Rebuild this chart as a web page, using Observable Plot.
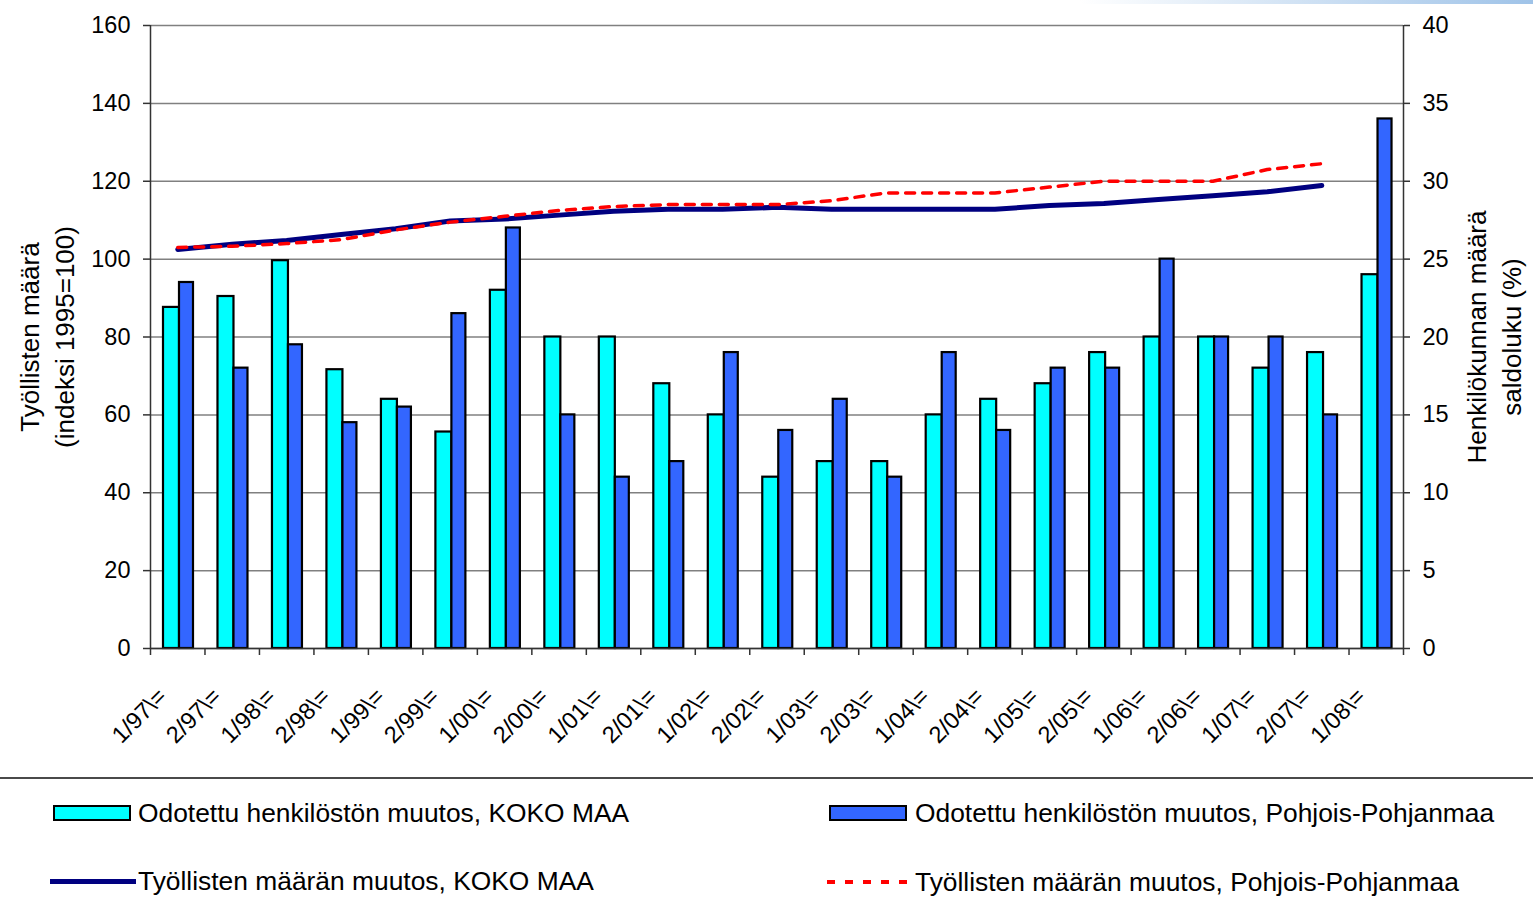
<!DOCTYPE html>
<html>
<head>
<meta charset="utf-8">
<script src="https://cdn.jsdelivr.net/npm/d3@7"></script>
<script src="https://cdn.jsdelivr.net/npm/@observablehq/plot@0.6"></script>
<style>
  body { margin: 0; background: #fff; font-family: "Liberation Sans", Arial, sans-serif; }
  #wrap { position: relative; width: 1533px; height: 913px; overflow: hidden; }
  #chart { position: absolute; left: 0; top: 0; }
  .topbar { position: absolute; top: 0; left: 1080px; width: 453px; height: 4px; background: linear-gradient(to right, #ffffff, #9fc3e8); }
  .sep { position: absolute; left: 0; top: 777px; width: 1533px; height: 2px; background: #4a4a4a; }
  .leg { position: absolute; font-size: 25px; color: #000; white-space: nowrap; line-height: 1; transform: scaleX(1.055); transform-origin: left center; }
  .sw { position: absolute; box-sizing: border-box; }
</style>
</head>
<body>
<div id="wrap">
  <div class="topbar"></div>
  <div id="chart"></div>
  <div class="sep"></div>
  <div id="legend"></div>
</div>
<script>
// Categories (tick labels)
const cats = ["1/97\\=","2/97\\=","1/98\\=","2/98\\=","1/99\\=","2/99\\=","1/00\\=","2/00\\=","1/01\\=","2/01\\=","1/02\\=","2/02\\=","1/03\\=","2/03\\=","1/04\\=","2/04\\=","1/05\\=","2/05\\=","1/06\\=","2/06\\=","1/07\\=","2/07\\=","1/08\\="];

// Bars: expected change in personnel, saldo (%), right axis
const henkKoko = [21.9, 22.6, 24.9, 17.9, 16, 13.9, 23, 20, 20, 17, 15, 11, 12, 12, 15, 16, 17, 19, 20, 20, 18, 19, 24];
const henkPP   = [23.5, 18, 19.5, 14.5, 15.5, 21.5, 27, 15, 11, 12, 19, 14, 16, 11, 19, 14, 18, 18, 25, 20, 20, 15, 34];

// Lines: employed persons index (1995=100), left axis
const tyoKoko = [102.5, 103.8, 104.8, 106.3, 107.8, 109.8, 110.3, 111.3, 112.3, 112.8, 112.8, 113.3, 112.8, 112.8, 112.8, 112.8, 113.8, 114.3, 115.3, 116.3, 117.3, 118.9, null];
const tyoPP   = [103, 103.3, 104, 105, 107.5, 109.5, 111, 112.5, 113.5, 114, 114, 114, 115, 117, 117, 117, 118.5, 120, 120, 120, 123, 124.5, null];

const leftTicks = d3.range(0, 161, 20);
const rightTicks = d3.range(0, 41, 5);

const seriesNames = [
  "Odotettu henkilöstön muutos, KOKO MAA",
  "Odotettu henkilöstön muutos, Pohjois-Pohjanmaa",
  "Työllisten määrän muutos, KOKO MAA",
  "Työllisten määrän muutos, Pohjois-Pohjanmaa"
];
const leftTitle = "Työllisten määrä\n(indeksi 1995=100)";
const rightTitle = "Henkilökunnan määrä\nsaldoluku (%)";

const rows = cats.map((c, i) => ({cat: c, hk: henkKoko[i], hp: henkPP[i], tk: tyoKoko[i], tp: tyoPP[i]}));
const y2 = d3.scaleLinear([0, 40], [0, 160]);

const W = 1533, H = 775, mL = 150, mR = 130, mT = 25, mB = 127;
const bw = (W - mL - mR) / cats.length;
const font = "Liberation Sans, Arial, sans-serif";

const chart = Plot.plot({
  width: W, height: H,
  marginLeft: mL, marginRight: mR, marginTop: mT, marginBottom: mB,
  style: {fontFamily: font, color: "#000", background: "transparent", overflow: "visible"},
  x: {type: "band", domain: cats, padding: 0, round: false, axis: null},
  y: {domain: [0, 160], axis: null},
  marks: [
    Plot.gridY(leftTicks, {stroke: "#808080", strokeOpacity: 1, strokeWidth: 1.5}),
    Plot.barY(rows, {x: "cat", y: d => y2(d.hk), fill: "#00ffff", stroke: "#000", strokeWidth: 2.2, insetLeft: 13, insetRight: bw - 29}),
    Plot.barY(rows, {x: "cat", y: d => y2(d.hp), fill: "#3366ff", stroke: "#000", strokeWidth: 2.2, insetLeft: 29, insetRight: bw - 43}),
    Plot.line(rows.filter(d => d.tk != null), {x: "cat", y: "tk", stroke: "#000080", strokeWidth: 5}),
    Plot.line(rows.filter(d => d.tp != null), {x: "cat", y: "tp", stroke: "#ff0000", strokeWidth: 3.5, strokeDasharray: "9,8"}),
    Plot.ruleY([0], {stroke: "#333", strokeWidth: 1.5}),
    Plot.ruleX([cats[0]], {dx: -bw / 2, stroke: "#333", strokeWidth: 1.5}),
    Plot.ruleX([cats[cats.length - 1]], {dx: bw / 2, stroke: "#333", strokeWidth: 1.5}),
    Plot.axisX(cats, {text: null, label: null, tickSize: 7, dx: -bw / 2, stroke: "#333", strokeWidth: 1.5}),
    Plot.axisX([cats[cats.length - 1]], {text: null, label: null, tickSize: 7, dx: bw / 2, stroke: "#333", strokeWidth: 1.5}),
    Plot.text(rows, {x: "cat", text: "cat", frameAnchor: "bottom", rotate: -45, textAnchor: "end", lineAnchor: "middle", dy: 44, dx: -15, fontSize: 23.5}),
    Plot.axisY(leftTicks, {anchor: "left", tickSize: 7, tickPadding: 13, fontSize: 23.5, label: null, stroke: "#333", strokeWidth: 1.5}),
    Plot.axisY(rightTicks, {y: y2, anchor: "right", tickSize: 6, tickPadding: 13, fontSize: 23.5, label: null, tickFormat: d => String(d), stroke: "#333", strokeWidth: 1.5}),
    Plot.text([leftTitle], {text: d => d, frameAnchor: "left", rotate: -90, dx: -105, fontSize: 26, lineHeight: 1.32, textAnchor: "middle"}),
    Plot.text([rightTitle], {text: d => d, frameAnchor: "right", rotate: -90, dx: 89, fontSize: 26, lineHeight: 1.32, textAnchor: "middle"})
  ]
});
document.getElementById("chart").appendChild(chart);

// Legend (HTML, below the SVG)
const legend = document.getElementById("legend");
const items = [
  {name: seriesNames[0], kind: "box", fill: "#00ffff", sx: 53, tx: 138, y: 813},
  {name: seriesNames[1], kind: "box", fill: "#3366ff", sx: 829, tx: 915, y: 813},
  {name: seriesNames[2], kind: "solid", color: "#000080", sx: 50, tx: 138, y: 881},
  {name: seriesNames[3], kind: "dash", color: "#ff0000", sx: 827, tx: 915, y: 882}
];
items.forEach(it => {
  const sw = document.createElement("div");
  sw.className = "sw";
  if (it.kind === "box") {
    Object.assign(sw.style, {left: it.sx + "px", top: (it.y - 8) + "px", width: "78px", height: "16px", background: it.fill, border: "2px solid #000"});
  } else if (it.kind === "solid") {
    Object.assign(sw.style, {left: it.sx + "px", top: (it.y - 2.5) + "px", width: "86px", height: "5px", background: it.color});
  } else {
    Object.assign(sw.style, {left: it.sx + "px", top: (it.y - 2) + "px", width: "82px", height: "4px",
      background: `repeating-linear-gradient(to right, ${it.color} 0 8px, transparent 8px 18px)`});
  }
  legend.appendChild(sw);
  const t = document.createElement("div");
  t.className = "leg";
  t.textContent = it.name;
  Object.assign(t.style, {left: it.tx + "px", top: (it.y - 12.5) + "px"});
  legend.appendChild(t);
});
</script>
</body>
</html>
